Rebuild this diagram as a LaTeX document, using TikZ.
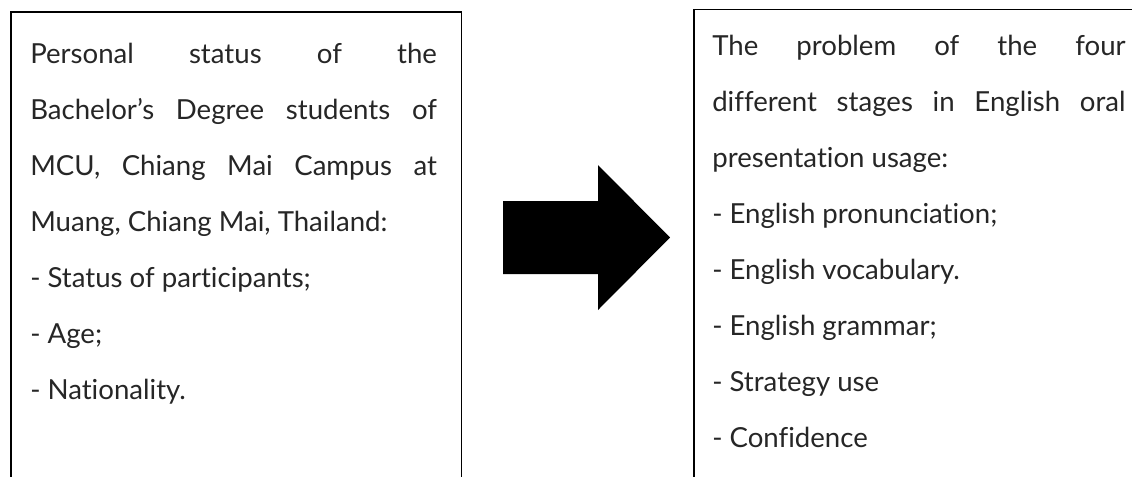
\documentclass[tikz,border=0pt]{standalone}
\usepackage{fontspec}
\setmainfont{Lato}[Ligatures={TeX,NoCommon}]

\begin{document}
\begin{tikzpicture}[
  x=0.75pt, y=-0.75pt,
  every node/.style={inner sep=0pt},
  frame/.style={draw, line width=1.3pt, anchor=north west},
  txt/.style={anchor=base west, align=justify, font=\fontsize{20.7}{42}\selectfont, text=black!85},
  blockarrow/.style={fill=black}
]
\useasboundingbox (0,0) rectangle (1132,476);
\clip (0,0) rectangle (1132,476);

% frames run on past the bottom edge
\node[frame, minimum width=338pt, minimum height=362pt] (leftbox)  at (10,11)  {};
\node[frame, minimum width=339pt, minimum height=364pt] (rightbox) at (693,8.5) {};

% text, justified lines end with \linebreak
\node[txt, text width=305pt] (lefttext) at (30,63) {Personal status of the\linebreak
  Bachelor's Degree students of\linebreak
  MCU, Chiang Mai Campus at\linebreak
  Muang, Chiang Mai, Thailand:\\
  - Status of participants;\\
  - Age;\\
  - Nationality.};

\node[txt, text width=310pt] (righttext) at (712,55) {The problem of the four\linebreak
  different stages in English oral\linebreak
  presentation usage:\\
  - English pronunciation;\\
  - English vocabulary.\\
  - English grammar;\\
  - Strategy use\\
  - Confidence};

% block arrow between the frames
\fill[blockarrow] (503,201) -- (598,201) -- (598,165) -- (670,237.5)
  -- (598,310) -- (598,274) -- (503,274) -- cycle;

\end{tikzpicture}
\end{document}
